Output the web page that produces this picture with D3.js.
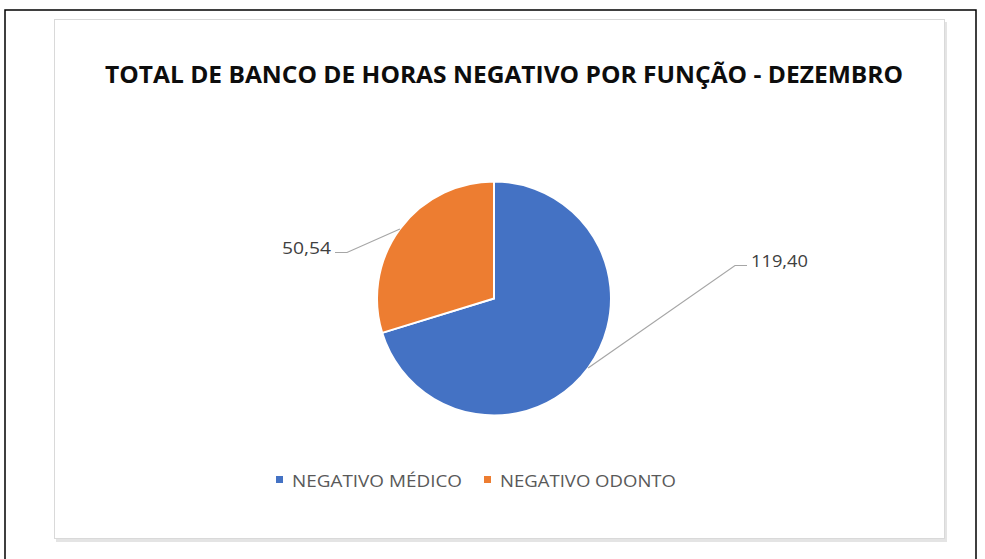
<!DOCTYPE html>
<html>
<head>
<meta charset="utf-8">
<script src="https://cdn.jsdelivr.net/npm/d3@7"></script>
<style>
  body { margin: 0; background: #fff; }
  svg { display: block; }
</style>
</head>
<body>
<svg id="chart" width="985" height="559"></svg>
<script>
const title = "TOTAL DE BANCO DE HORAS NEGATIVO POR FUNÇÃO - DEZEMBRO";
const categories = ["NEGATIVO MÉDICO", "NEGATIVO ODONTO"];
const values = [119.40, 50.54];
const colors = ["#4472C4", "#ED7D31"];

const svg = d3.select("#chart");
const font = "'Open Sans', 'Noto Sans', sans-serif";

// page frame
svg.append("path")
  .attr("d", "M5,559 V10 H976 V559")
  .attr("fill", "none")
  .attr("stroke", "#000")
  .attr("stroke-width", 1.5);

// chart area box with soft shadow
svg.append("rect")
  .attr("x", 56).attr("y", 22).attr("width", 891).attr("height", 520)
  .attr("fill", "#e4e4e4");
svg.append("rect")
  .attr("x", 54.5).attr("y", 19.5).attr("width", 890).attr("height", 519)
  .attr("fill", "#fff")
  .attr("stroke", "#d9d9d9")
  .attr("stroke-width", 1);

svg.append("text")
  .attr("x", 105).attr("y", 83)
  .attr("textLength", 798)
  .attr("lengthAdjust", "spacingAndGlyphs")
  .style("font-family", font)
  .style("font-weight", "bold")
  .style("font-size", "24px")
  .style("fill", "#0d0d0d")
  .text(title);

const cx = 494, cy = 298.5, radius = 117;
const data = categories.map((c, i) => ({ name: c, value: values[i], color: colors[i] }));

const pie = d3.pie().value(d => d.value).sort(null);
const arc = d3.arc().innerRadius(0).outerRadius(radius);

const g = svg.append("g").attr("transform", `translate(${cx},${cy})`);
const arcs = pie(data);

g.selectAll("path.slice")
  .data(arcs)
  .enter()
  .append("path")
  .attr("class", "slice")
  .attr("d", arc)
  .attr("fill", d => d.data.color)
  .attr("stroke", "#fff")
  .attr("stroke-width", 2);

// data labels with leader lines (elbow offsets relative to center)
const elbows = [[241, -33], [-147, -46]];
const labelWidths = [57, 49];
const fmt = v => d3.format(".2f")(v).replace(".", ",");

arcs.forEach((d, i) => {
  const a = (d.startAngle + d.endAngle) / 2;
  const p0 = [radius * Math.sin(a), -radius * Math.cos(a)];
  const e = elbows[i];
  const right = e[0] > 0;
  const e2 = [e[0] + (right ? 12 : -12), e[1]];
  g.append("polyline")
    .attr("points", [p0, e, e2].map(p => p.join(",")).join(" "))
    .attr("fill", "none")
    .attr("stroke", "#a6a6a6")
    .attr("stroke-width", 1.2);
  g.append("text")
    .attr("x", right ? e2[0] + 4 : e2[0] - 4 - labelWidths[i])
    .attr("y", e2[1] + 1)
    .attr("textLength", labelWidths[i])
    .attr("lengthAdjust", "spacingAndGlyphs")
    .style("font-family", font)
    .style("font-size", "17px")
    .style("fill", "#404040")
    .text(fmt(d.data.value));
});

// legend
const legendX = [276, 484];
const legend = svg.append("g");
data.forEach((d, i) => {
  legend.append("rect")
    .attr("x", legendX[i]).attr("y", 476)
    .attr("width", 7).attr("height", 7)
    .attr("fill", d.color);
  legend.append("text")
    .attr("x", legendX[i] + 16).attr("y", 487)
    .attr("textLength", i === 0 ? 170 : 176)
    .attr("lengthAdjust", "spacingAndGlyphs")
    .style("font-family", font)
    .style("font-size", "16.5px")
    .style("fill", "#595959")
    .text(d.name);
});
</script>
</body>
</html>
